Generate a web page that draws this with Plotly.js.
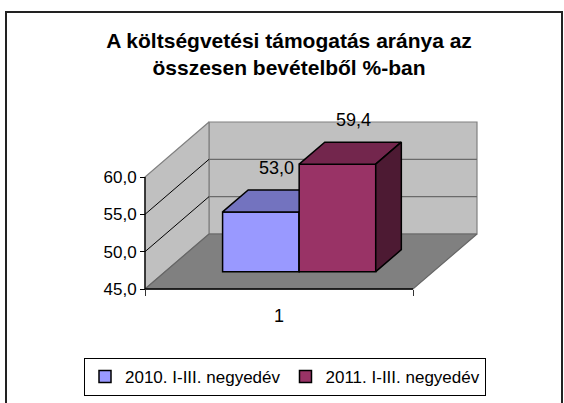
<!DOCTYPE html>
<html>
<head>
<meta charset="utf-8">
<script src="https://cdn.plot.ly/plotly-3.0.1.min.js"></script>
<style>html,body{margin:0;padding:0;background:#fff;}#chart{width:564px;height:403px;}</style>
</head>
<body>
<div id="chart"></div>
<script>
// ---- data ----
const categories = ['1'];
const seriesNames = ['2010. I-III. negyedév', '2011. I-III. negyedév'];
const seriesValues = [53.0, 59.4];
const tickValues = [45, 50, 55, 60];
const tickLabels = ['45,0', '50,0', '55,0', '60,0'];
const chartTitle = 'A költségvetési támogatás aránya az<br>összesen bevételből %-ban';

// ---- styles ----
const frontColors = ['#9999FF', '#993366'];
const topColors = ['#7373BF', '#73264D'];
const sideColors = ['#4D4D80', '#4D1A33'];
const FONT = '"Liberation Sans", Arial, sans-serif';

// ---- geometry (pixel scale of the pseudo-3D view) ----
const SX = 268, SY = 7.467;           // px per unit
const X0 = 145, Y0 = 289;             // px of (x=0, y=min)
const Dx = 64 / SX, Dy = 55 / SY;     // full depth offset in data units
const PL = 40, PR = 540, PT = 100, PB = 300; // plot area px
const yMin = tickValues[0], yMax = tickValues[tickValues.length - 1];
const xRange = [(PL - X0) / SX, (PR - X0) / SX];
const yRange = [yMin - (PB - Y0) / SY, yMin + (Y0 - PT) / SY];
const nS = seriesValues.length;
const barW = 1 / (nS + 1.5);
const d1 = 0.315, d2 = 0.715;

function P(x, y, d) { return [x + d * Dx, y + d * Dy]; }
function poly(pts, fill, line, lw, ax) {
  const xs = pts.map(p => p[0]); const ys = pts.map(p => p[1]);
  xs.push(pts[0][0]); ys.push(pts[0][1]);
  return {type: 'scatter', mode: 'lines', x: xs, y: ys, fill: 'toself', fillcolor: fill,
    line: {color: line, width: lw}, hoverinfo: 'skip', showlegend: false,
    xaxis: ax ? 'x' + ax : 'x', yaxis: ax ? 'y' + ax : 'y'};
}
function lines(segs, color, lw) {
  const xs = [], ys = [];
  segs.forEach(s => { xs.push(s[0][0], s[1][0], null); ys.push(s[0][1], s[1][1], null); });
  return {type: 'scatter', mode: 'lines', x: xs, y: ys, line: {color: color, width: lw},
    hoverinfo: 'skip', showlegend: false, cliponaxis: false};
}

const traces = [];
// walls and floor
traces.push(poly([P(0, yMin, 1), P(1, yMin, 1), P(1, yMax, 1), P(0, yMax, 1)], '#C0C0C0', '#808080', 1.2));
traces.push(poly([P(0, yMin, 0), P(0, yMin, 1), P(0, yMax, 1), P(0, yMax, 0)], '#C0C0C0', '#808080', 1.2));
traces.push(poly([P(0, yMin, 0), P(1, yMin, 0), P(1, yMin, 1), P(0, yMin, 1)], '#808080', '#666666', 1.2));
const inner = tickValues.slice(1, -1);
traces.push(lines(inner.map(v => [P(0, v, 1), P(1, v, 1)]), '#6a6a6a', 1.2));
traces.push(lines(inner.map(v => [P(0, v, 0), P(0, v, 1)]), '#000000', 1));
traces.push(lines([[P(0, yMin, 0), P(0, yMax, 0)], [P(0, yMin, 0), P(1, yMin, 0)]], '#000000', 1.3));

// bars: each series on its own overlay subplot so faces stack in painter's order
const annotations = [];
seriesValues.forEach((v, i) => {
  const ax = String(i + 2);
  const c = 0.5 + (i - (nS - 1) / 2) * barW;
  const xl = c - barW / 2, xr = c + barW / 2;
  traces.push({type: 'bar', name: seriesNames[i], x: [c + d1 * Dx], y: [v - yMin],
    base: [yMin + d1 * Dy], width: [barW], marker: {color: frontColors[i], line: {color: '#000', width: 1.5}},
    xaxis: 'x' + ax, yaxis: 'y' + ax, hoverinfo: 'skip', showlegend: true});
  traces.push(poly([P(xl, v, d1), P(xr, v, d1), P(xr, v, d2), P(xl, v, d2)], topColors[i], '#000', 1.5, ax));
  traces.push(poly([P(xr, yMin, d1), P(xr, v, d1), P(xr, v, d2), P(xr, yMin, d2)], sideColors[i], '#000', 1.5, ax));
  const lp = P(c, v, (d1 + d2) / 2);
  annotations.push({x: lp[0], y: lp[1], xref: 'x', yref: 'y', text: v.toFixed(1).replace('.', ','),
    showarrow: false, yshift: 33, xshift: 3, font: {family: FONT, size: 18, color: '#000'}});
});

const W = PR - PL, H = PB - PT;
const layout = {
  width: 564, height: 403,
  margin: {l: PL, r: 564 - PR, t: PT, b: 403 - PB, pad: 0, autoexpand: false},
  paper_bgcolor: '#ffffff', plot_bgcolor: 'rgba(0,0,0,0)',
  showlegend: true, barmode: 'overlay', hovermode: false,
  title: {text: '<b>' + chartTitle + '</b>', x: 289 / 564, xanchor: 'center', xref: 'container',
    y: 1 - 48 / 403, yanchor: 'top', yref: 'container',
    font: {family: FONT, size: 21, color: '#000'}},
  xaxis: {range: xRange, anchor: 'free', position: (PB - Y0) / H, showgrid: false, zeroline: false,
    showline: false, tickmode: 'array', tickvals: [0.5], ticktext: categories,
    ticks: 'outside', ticklen: 10, tickcolor: 'rgba(0,0,0,0)',
    minor: {tickmode: 'array', tickvals: [0, 1], ticks: 'outside', ticklen: 6, tickcolor: '#333', tickwidth: 1, showgrid: false},
    tickfont: {family: FONT, size: 18, color: '#000'}, fixedrange: true},
  yaxis: {range: yRange, anchor: 'free', position: (X0 - PL) / W, showgrid: false, zeroline: false,
    showline: false, tickmode: 'array', tickvals: tickValues, ticktext: tickLabels,
    ticks: 'outside', ticklen: 5, tickcolor: '#000', tickwidth: 1,
    tickfont: {family: FONT, size: 17, color: '#000'}, fixedrange: true},
  annotations: annotations,
  legend: {orientation: 'h', xref: 'container', yref: 'container', x: 285 / 564, xanchor: 'center',
    y: 1 - 358 / 403, yanchor: 'top',
    bordercolor: '#000', borderwidth: 1, bgcolor: '#fff', font: {family: FONT, size: 17, color: '#000'},
    traceorder: 'normal', itemclick: false, itemdoubleclick: false},
  shapes: [{type: 'rect', xref: 'paper', yref: 'paper', x0: (6 - PL) / W, x1: (562 - PL) / W,
    y0: (PB - 406) / H, y1: (PB - 12) / H, line: {color: '#222', width: 2}, fillcolor: 'rgba(0,0,0,0)'}]
};
seriesValues.forEach((v, i) => {
  const ax = String(i + 2);
  layout['xaxis' + ax] = {overlaying: 'x', anchor: 'y' + ax, range: xRange, visible: false, fixedrange: true};
  layout['yaxis' + ax] = {overlaying: 'y', anchor: 'x' + ax, range: yRange, visible: false, fixedrange: true};
});

Plotly.newPlot('chart', traces, layout, {displayModeBar: false, staticPlot: true});
</script>
</body>
</html>
